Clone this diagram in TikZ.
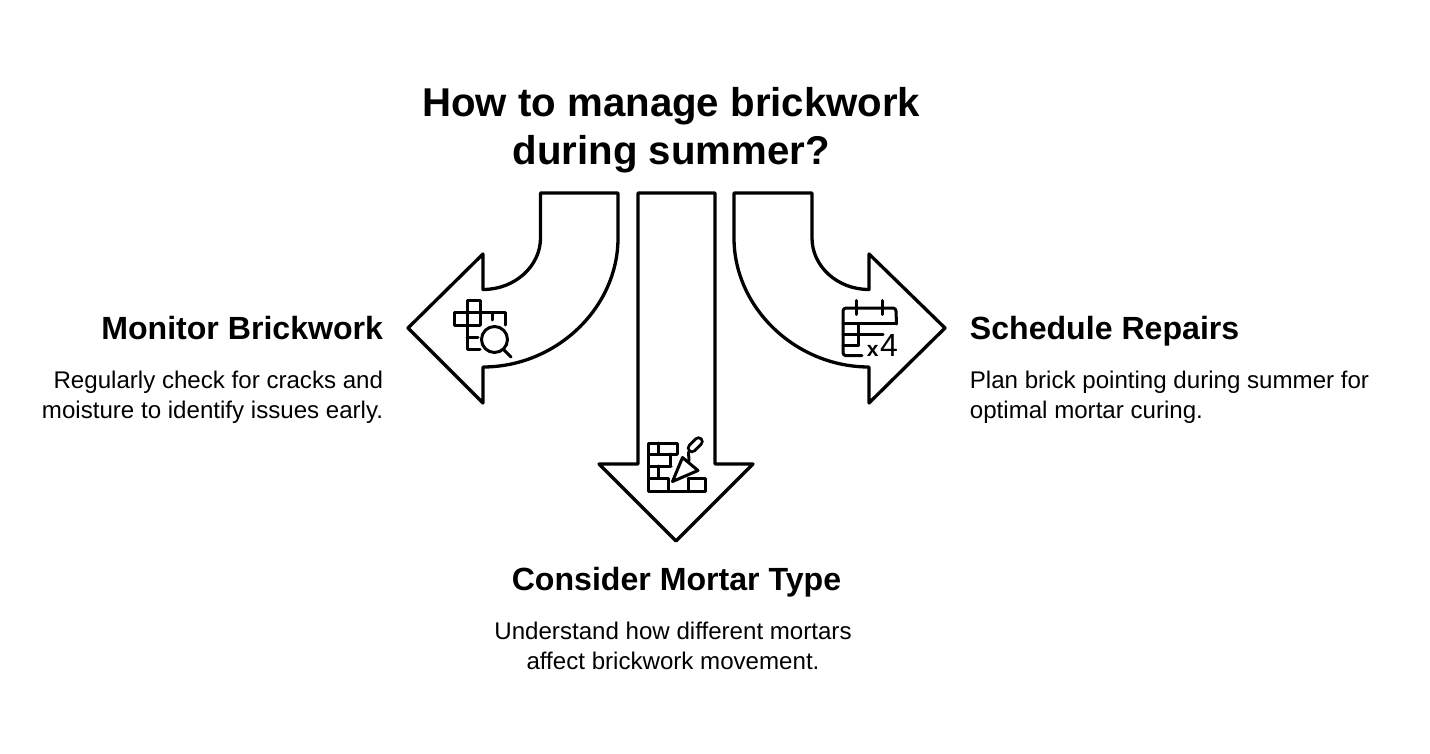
\documentclass[tikz,border=0pt]{standalone}
\usepackage{fontspec}
\setmainfont{Liberation Sans}
\tikzset{
  x=1pt,y=-1pt,
  arrowshape/.style={draw=black,line width=3.3pt,line join=round,fill=white},
  iconline/.style={draw=black,line width=3pt,line join=round,line cap=round},
  titletext/.style={inner sep=0,anchor=base,font=\bfseries\fontsize{40.2}{48}\selectfont},
  headtext/.style={inner sep=0,font=\bfseries\fontsize{32.1}{36}\selectfont},
  desctext/.style={inner sep=0,font=\fontsize{24.1}{29.5}\selectfont},
}
\begin{document}
\begin{tikzpicture}
\useasboundingbox[fill=white] (0,0) rectangle (1430,754);
% Title
\node[titletext] (t1) at (671.3,116.6) {How to manage brickwork};
\node[titletext] (t2) at (671.3,164.6) {during summer?};
% Arrows
\draw[arrowshape] (540.5,193) -- (618,193) -- (618,238)
  .. controls (618,308) and (556,367) .. (483,367)
  -- (483,403) -- (408,328) -- (483,254) -- (483,289.5)
  .. controls (515,289.5) and (540.5,266) .. (540.5,238) -- cycle;
\draw[arrowshape] (812,193) -- (734,193) -- (734,238)
  .. controls (734,308) and (796,367) .. (869,367)
  -- (869,403) -- (945,328) -- (869,254) -- (869,289.5)
  .. controls (837,289.5) and (812,266) .. (812,238) -- cycle;
\draw[arrowshape] (638,193) -- (715,193) -- (715,464) -- (753,464) -- (676,541) -- (599,464) -- (638,464) -- cycle;
% Left icon
\draw[iconline] (480,325) -- (454.5,325) -- (454.5,312.5) -- (505,312.5) -- (505,325);
\draw[iconline] (467,325) -- (467,300.5) -- (480,300.5) -- (480,325);
\draw[iconline] (467,325) -- (467,349.5) -- (480,349.5);
\draw[iconline] (467,337) -- (478,337);
\draw[iconline] (492.5,312.5) -- (492.5,320);
\draw[iconline] (494.5,339.5) circle (13);
\draw[iconline] (503.5,349.5) -- (511,357);
% Right icon
\draw[iconline] (862,355.7) -- (846,355.7) arc (90:180:3) -- (843,311) arc (180:270:3) -- (893,308) arc (-90:0:3) -- (896.5,324);
\draw[iconline] (843,323.5) -- (896.5,323.5);
\draw[iconline] (856.7,300.5) -- (856.7,314.5) (882.5,300.5) -- (882.5,314.5);
\draw[iconline] (843,334) -- (883,334) (843,345) -- (858.5,345) (858.5,323.5) -- (858.5,345);
\node[inner sep=0,anchor=base east] (x4) at (898,356) {{\bfseries\fontsize{21}{21}\selectfont x}\hspace{1.5pt}{\fontsize{32}{32}\selectfont 4}};
% Centre icon
\draw[iconline] (677,454) -- (677,443) -- (648.3,443) -- (648.3,491.5) -- (705,491.5) -- (705,478.5) -- (688,478.5);
\draw[iconline] (648.3,454) -- (677,454) (648.3,466) -- (671,466) (648.3,478.5) -- (668,478.5);
\draw[iconline] (658,443) -- (658,454) (670.5,454) -- (670.5,466) (658,466) -- (658,478.5) (668,478.5) -- (668,491.5) (688,478.5) -- (688,491.5);
\draw[line width=10.5pt,line cap=round,draw=black] (692,448) -- (698.5,441.5);
\draw[line width=4.5pt,line cap=round,draw=white] (692,448) -- (698.5,441.5);
\draw[iconline] (688.5,452) -- (689,461);
\draw[iconline,fill=white] (672.5,481.5) -- (682.5,457.5) -- (698,470.5) -- cycle;
% Labels
\node[headtext,anchor=base east] (h1) at (383.3,339.6) {Monitor Brickwork};
\node[desctext,anchor=base east] (d1a) at (383.3,388.6) {Regularly check for cracks and};
\node[desctext,anchor=base east] (d1b) at (383.3,418.6) {moisture to identify issues early.};
\node[headtext,anchor=base west] (h3) at (969.7,339.6) {Schedule Repairs};
\node[desctext,anchor=base west] (d3a) at (969.7,388.6) {Plan brick pointing during summer for};
\node[desctext,anchor=base west] (d3b) at (969.7,418.6) {optimal mortar curing.};
\node[headtext,anchor=base] (h2) at (676.5,590.6) {Consider Mortar Type};
\node[desctext,anchor=base] (d2a) at (673,639.6) {Understand how different mortars};
\node[desctext,anchor=base] (d2b) at (673,669.6) {affect brickwork movement.};
\end{tikzpicture}
\end{document}
